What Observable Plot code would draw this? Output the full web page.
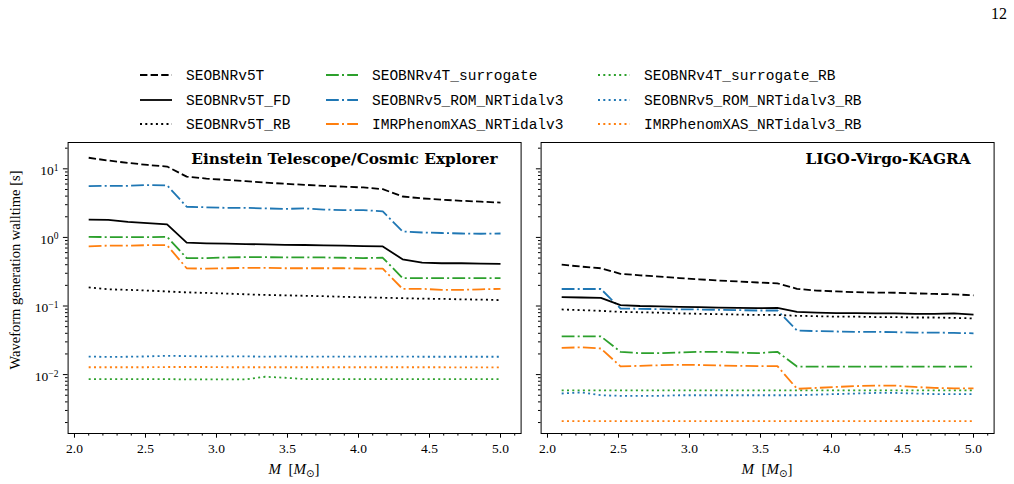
<!DOCTYPE html>
<html><head><meta charset="utf-8">
<script src="https://cdn.jsdelivr.net/npm/d3@7"></script>
<script src="https://cdn.jsdelivr.net/npm/@observablehq/plot@0.6"></script>
<style>
body{margin:0;background:#fff;}
#root{position:relative;width:1014px;height:484px;overflow:hidden;background:#fff;}
#root > svg{position:absolute;}
</style></head><body><div id="root"></div>
<script>
// ---------------- data ----------------
const masses = [2.1, 2.238, 2.376, 2.514, 2.652, 2.79, 2.929, 3.067, 3.205, 3.343, 3.481, 3.619, 3.757, 3.895, 4.033, 4.171, 4.31, 4.448, 4.586, 4.724, 4.862, 5.0];

const seriesNames = ["SEOBNRv5T", "SEOBNRv5T_FD", "SEOBNRv5T_RB",
  "SEOBNRv4T_surrogate", "SEOBNRv5_ROM_NRTidalv3", "IMRPhenomXAS_NRTidalv3",
  "SEOBNRv4T_surrogate_RB", "SEOBNRv5_ROM_NRTidalv3_RB", "IMRPhenomXAS_NRTidalv3_RB"];

const panelTitles = ["Einstein Telescope/Cosmic Explorer", "LIGO-Virgo-KAGRA"];

// Einstein Telescope / Cosmic Explorer panel
const et_SEOBNRv5T    = [14.5, 13.2, 12.2, 11.4, 10.8, 7.7, 7.2, 6.9, 6.6, 6.3, 6.05, 5.85, 5.65, 5.5, 5.35, 5.05, 3.95, 3.7, 3.55, 3.42, 3.32, 3.22];
const et_SEOBNRv5T_FD = [1.82, 1.80, 1.68, 1.62, 1.55, 0.84, 0.82, 0.81, 0.80, 0.79, 0.78, 0.775, 0.765, 0.76, 0.745, 0.74, 0.48, 0.43, 0.42, 0.42, 0.415, 0.41];
const et_SEOBNRv5T_RB = [0.187, 0.175, 0.172, 0.168, 0.163, 0.158, 0.155, 0.152, 0.148, 0.145, 0.143, 0.141, 0.139, 0.136, 0.134, 0.132, 0.130, 0.128, 0.127, 0.125, 0.124, 0.122];
const et_v4T_sur      = [1.02, 1.01, 1.01, 1.01, 1.02, 0.50, 0.50, 0.51, 0.515, 0.515, 0.51, 0.51, 0.51, 0.505, 0.50, 0.505, 0.255, 0.255, 0.255, 0.255, 0.255, 0.255];
const et_v5ROM        = [5.6, 5.65, 5.65, 5.8, 5.75, 2.8, 2.75, 2.7, 2.7, 2.65, 2.6, 2.65, 2.55, 2.5, 2.5, 2.4, 1.22, 1.18, 1.16, 1.14, 1.13, 1.14];
const et_XAS          = [0.74, 0.76, 0.76, 0.77, 0.77, 0.355, 0.35, 0.355, 0.36, 0.36, 0.355, 0.355, 0.355, 0.355, 0.35, 0.35, 0.178, 0.178, 0.172, 0.172, 0.175, 0.178];
const et_v4T_sur_RB   = [0.0086, 0.0086, 0.0086, 0.0086, 0.0086, 0.0085, 0.0085, 0.0085, 0.0085, 0.0093, 0.0090, 0.0086, 0.0086, 0.0086, 0.0086, 0.0086, 0.0086, 0.0086, 0.0086, 0.0086, 0.0086, 0.0086];
const et_v5ROM_RB     = [0.0183, 0.0181, 0.0182, 0.0184, 0.0188, 0.0186, 0.0184, 0.0184, 0.0184, 0.0183, 0.0184, 0.0183, 0.0183, 0.0183, 0.0183, 0.0183, 0.0183, 0.0182, 0.0182, 0.0182, 0.0182, 0.0182];
const et_XAS_RB       = [0.0128, 0.0128, 0.0128, 0.0128, 0.0129, 0.0129, 0.0129, 0.0128, 0.0128, 0.0128, 0.0128, 0.0128, 0.0128, 0.0128, 0.0128, 0.0128, 0.0128, 0.0128, 0.0128, 0.0127, 0.0127, 0.0127];

// LIGO-Virgo-KAGRA panel
const lvk_SEOBNRv5T    = [0.40, 0.375, 0.355, 0.295, 0.28, 0.268, 0.255, 0.245, 0.235, 0.228, 0.22, 0.214, 0.178, 0.168, 0.163, 0.159, 0.157, 0.156, 0.153, 0.15, 0.148, 0.143];
const lvk_SEOBNRv5T_FD = [0.135, 0.133, 0.131, 0.103, 0.100, 0.099, 0.097, 0.096, 0.095, 0.094, 0.093, 0.094, 0.082, 0.080, 0.079, 0.079, 0.078, 0.078, 0.077, 0.077, 0.078, 0.075];
const lvk_SEOBNRv5T_RB = [0.089, 0.087, 0.085, 0.082, 0.081, 0.080, 0.078, 0.077, 0.076, 0.075, 0.074, 0.074, 0.072, 0.071, 0.070, 0.070, 0.069, 0.069, 0.068, 0.068, 0.067, 0.066];
const lvk_v4T_sur      = [0.036, 0.036, 0.036, 0.0215, 0.0205, 0.0205, 0.021, 0.0215, 0.0215, 0.021, 0.0205, 0.0215, 0.0131, 0.0131, 0.0131, 0.0131, 0.0131, 0.0131, 0.0131, 0.0131, 0.0131, 0.0131];
const lvk_v5ROM        = [0.177, 0.177, 0.177, 0.092, 0.091, 0.090, 0.089, 0.089, 0.088, 0.087, 0.086, 0.086, 0.044, 0.043, 0.0425, 0.042, 0.042, 0.0415, 0.041, 0.041, 0.0405, 0.040];
const lvk_XAS          = [0.0245, 0.025, 0.024, 0.0132, 0.0134, 0.0137, 0.0139, 0.0138, 0.0136, 0.0134, 0.0133, 0.0133, 0.0062, 0.0064, 0.0066, 0.0068, 0.0069, 0.0069, 0.0066, 0.0064, 0.0063, 0.0063];
const lvk_v4T_sur_RB   = [0.0059, 0.0059, 0.0059, 0.0059, 0.0059, 0.0059, 0.0059, 0.0059, 0.0059, 0.0059, 0.0059, 0.0059, 0.0059, 0.0059, 0.0059, 0.0059, 0.0059, 0.0059, 0.0059, 0.0059, 0.0059, 0.0059];
const lvk_v5ROM_RB     = [0.0053, 0.0055, 0.0050, 0.0049, 0.0049, 0.0049, 0.0050, 0.0050, 0.0050, 0.0050, 0.0050, 0.0050, 0.0050, 0.0051, 0.0052, 0.0053, 0.0054, 0.0054, 0.0053, 0.0052, 0.0052, 0.0052];
const lvk_XAS_RB       = [0.0021, 0.0021, 0.0021, 0.0021, 0.0021, 0.0021, 0.0021, 0.0021, 0.0021, 0.0021, 0.0021, 0.0021, 0.0021, 0.0021, 0.0021, 0.0021, 0.0021, 0.0021, 0.0021, 0.0021, 0.0021, 0.0021];

const xTicks = [2.0, 2.5, 3.0, 3.5, 4.0, 4.5, 5.0];
const xMinorTicks = [2.0, 2.1, 2.2, 2.3, 2.4, 2.5, 2.6, 2.7, 2.8, 2.9, 3.0, 3.1, 3.2, 3.3, 3.4, 3.5, 3.6, 3.7, 3.8, 3.9, 4.0, 4.1, 4.2, 4.3, 4.4, 4.5, 4.6, 4.7, 4.8, 4.9, 5.0, 5.1];
const yTicks = [0.01, 0.1, 1, 10];
const yTickExponents = ["−2", "−1", "0", "1"];
const yMinorTicks = [0.002, 0.003, 0.004, 0.005, 0.006, 0.007, 0.008, 0.009,
  0.02, 0.03, 0.04, 0.05, 0.06, 0.07, 0.08, 0.09,
  0.2, 0.3, 0.4, 0.5, 0.6, 0.7, 0.8, 0.9,
  2, 3, 4, 5, 6, 7, 8, 9, 20];

// ---------------- styles ----------------
const BLUE = "#1f77b4", ORANGE = "#ff7f0e", GREEN = "#2ca02c", BLACK = "#000000";
const DASH = "7.4,3.2", DASHDOT = "12.8,3.2,2,3.2", DOT = "2,3.3";
const seriesStyle = {
  "SEOBNRv5T": [BLACK, DASH],
  "SEOBNRv5T_FD": [BLACK, null],
  "SEOBNRv5T_RB": [BLACK, DOT],
  "SEOBNRv4T_surrogate": [GREEN, DASHDOT],
  "SEOBNRv5_ROM_NRTidalv3": [BLUE, DASHDOT],
  "IMRPhenomXAS_NRTidalv3": [ORANGE, DASHDOT],
  "SEOBNRv4T_surrogate_RB": [GREEN, DOT],
  "SEOBNRv5_ROM_NRTidalv3_RB": [BLUE, DOT],
  "IMRPhenomXAS_NRTidalv3_RB": [ORANGE, DOT]
};
const etSeries = [et_SEOBNRv5T, et_SEOBNRv5T_FD, et_SEOBNRv5T_RB, et_v4T_sur, et_v5ROM, et_XAS, et_v4T_sur_RB, et_v5ROM_RB, et_XAS_RB];
const lvkSeries = [lvk_SEOBNRv5T, lvk_SEOBNRv5T_FD, lvk_SEOBNRv5T_RB, lvk_v4T_sur, lvk_v5ROM, lvk_XAS, lvk_v4T_sur_RB, lvk_v5ROM_RB, lvk_XAS_RB];

const SERIF = "'Liberation Serif', 'DejaVu Serif', serif";
const root = document.getElementById("root");

function panel(seriesArrays, title, opts) {
  // draw order: dotted, dashdot, then black ones on top
  const order = [6, 7, 8, 3, 4, 5, 2, 1, 0];
  const lines = order.map(i => {
    const name = seriesNames[i];
    const [color, dash] = seriesStyle[name];
    const data = masses.map((m, j) => ({M: m, t: seriesArrays[i][j]}));
    return Plot.line(data, {x: "M", y: "t", stroke: color, strokeWidth: 1.8,
      strokeDasharray: dash == null ? undefined : dash, strokeLinecap: "butt", strokeLinejoin: "round"});
  });
  const svg = Plot.plot({
    width: opts.width, height: 354,
    marginLeft: opts.ml, marginRight: opts.mr, marginTop: 12, marginBottom: 51,
    x: {domain: [1.955, 5.145], label: null},
    y: {type: "log", domain: [0.001384, 24.2], label: null},
    style: {fontFamily: SERIF, fontSize: "13.5px", color: "black", background: "transparent", overflow: "visible"},
    marks: [
      ...lines,
      Plot.frame({stroke: "black", strokeWidth: 1}),
      Plot.axisX({ticks: xMinorTicks, tickSize: 2.6, tickFormat: () => "", label: null}),
      Plot.axisX({ticks: xTicks, tickSize: 4.7, tickPadding: 5, tickFormat: d3.format(".1f"), label: null, fontSize: 13.5, fill: "black"}),
      Plot.axisY({ticks: yMinorTicks, tickSize: 2.6, tickFormat: () => "", label: null}),
      Plot.axisY({ticks: yTicks, tickSize: 4.7, tickPadding: 5, label: null, fontSize: 13.5,
        tickFormat: opts.labels ? (d => "10^" + yTickExponents[yTicks.indexOf(d)]) : (() => "")}),
      Plot.text([title], {frameAnchor: "top-right", dx: -23.5, dy: 10.6, lineAnchor: "top",
        fontFamily: "'DejaVu Serif', serif", fontWeight: "bold", fontSize: 15.3, fill: "black"})
    ]
  });
  svg.style.left = opts.left + "px";
  svg.style.top = "130px";
  root.appendChild(svg);
  // rebuild y tick labels with real superscripts
  d3.select(svg).selectAll('g[aria-label="y-axis tick label"] text').each(function() {
    const s = this.textContent;
    if (!s.includes("^")) return;
    const [base, exp] = s.split("^");
    const t = d3.select(this);
    t.text(null);
    t.append("tspan").attr("dy", "0.15em").text(base);
    t.append("tspan").attr("dy", "-0.45em").attr("font-size", "9.5px").text(exp);
  });
}

panel(etSeries, panelTitles[0], {width: 530, ml: 67.6, mr: 9.4, left: 0, labels: true});
panel(lvkSeries, panelTitles[1], {width: 474, ml: 10.6, mr: 10.4, left: 530, labels: false});

// ---------------- overlay: legend, axis labels, page number ----------------
const ov = d3.select(root).append("svg")
  .attr("width", 1014).attr("height", 484)
  .style("left", "0px").style("top", "0px").style("pointer-events", "none");

ov.append("text").attr("x", 1007).attr("y", 19).attr("text-anchor", "end")
  .attr("font-family", SERIF).attr("font-size", 16).text("12");

// y label
ov.append("text").attr("transform", "translate(20,270) rotate(-90)")
  .attr("text-anchor", "middle").attr("font-family", SERIF).attr("font-size", 14.5)
  .text("Waveform generation walltime [s]");

// x labels
[294, 767].forEach(cx => {
  const t = ov.append("text").attr("x", cx).attr("y", 474).attr("text-anchor", "middle")
    .attr("font-family", SERIF).attr("font-size", 15);
  t.append("tspan").attr("font-style", "italic").text("M");
  t.append("tspan").text("\u00a0\u00a0[");
  t.append("tspan").attr("font-style", "italic").text("M");
  t.append("tspan").attr("dy", 3).attr("font-size", 10).attr("font-family", "'DejaVu Sans', sans-serif").text("⊙");
  t.append("tspan").attr("dy", -3).text("]");
});

// legend
const legendCols = [140, 326, 598];
const legendRows = [75, 100, 124];
seriesNames.forEach((name, i) => {
  const col = Math.floor(i / 3), row = i % 3;
  const x0 = legendCols[col], y0 = legendRows[row];
  const [color, dash] = seriesStyle[name];
  ov.append("line").attr("x1", x0).attr("x2", x0 + 32).attr("y1", y0).attr("y2", y0)
    .attr("stroke", color).attr("stroke-width", 1.8)
    .attr("stroke-dasharray", dash).attr("stroke-linecap", "butt");
  ov.append("text").attr("x", x0 + 46).attr("y", y0).attr("dy", "0.35em")
    .attr("font-family", "'Liberation Mono', 'DejaVu Sans Mono', monospace").attr("font-size", 14.5)
    .text(name);
});
</script>
</body></html>
